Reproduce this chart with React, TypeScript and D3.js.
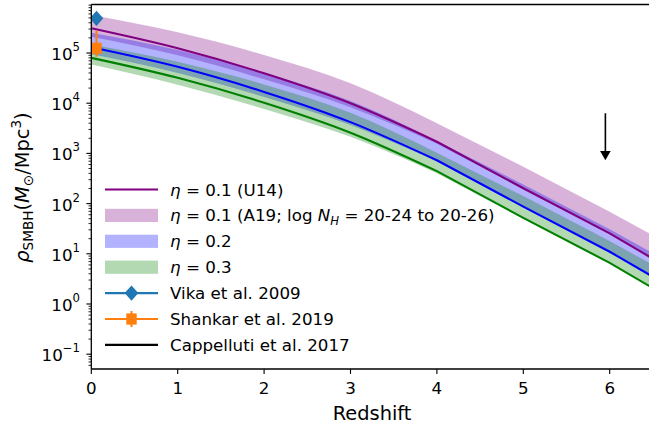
import React from 'react';
import * as d3 from 'd3';

// ---- data ----
const redshift = [0, 1, 2, 3, 4, 5, 6, 6.5];
const eta01Line = [3.1e5, 1.24e5, 3.94e4, 9.95e3, 1.71e3, 202, 25.6, 7.98];
const eta01BandHigh = [5.71e5, 2.58e5, 9.12e4, 2.49e4, 3.98e3, 543, 69, 23.2];
const eta01BandLow = [2.11e5, 9.0e4, 2.99e4, 8.28e3, 1.56e3, 193, 25.6, 8.05];
const eta02Line = [1.3e5, 5.3e4, 1.68e4, 4.2e3, 730, 87, 11, 3.5];
const eta02BandHigh = [2.54e5, 1.15e5, 4.05e4, 1.1e4, 1.77e3, 241, 30.7, 10.3];
const eta02BandLow = [9.4e4, 4.0e4, 1.33e4, 3.68e3, 693, 86, 11.4, 3.58];
const eta03Line = [8.0e4, 3.2e4, 1.02e4, 2.58e3, 443, 52, 6.6, 2.07];
const eta03BandHigh = [1.48e5, 6.7e4, 2.36e4, 6.45e3, 1.03e3, 141, 17.9, 6.0];
const eta03BandLow = [5.9e4, 2.33e4, 7.7e3, 2.14e3, 404, 50, 6.6, 2.08];

const vikaZ = [0.06];
const vikaRho = [4.9e5];
const shankarZ = [0.06];
const shankarRho = [1.24e5];
const shankarLow = [8.4e4];
const shankarHigh = [2.8e5];
const cappellutiZ = [5.95];
const cappellutiRho = [6300];
const cappellutiArrowEnd = [900];

const xTicks = [0, 1, 2, 3, 4, 5, 6];
const yTickExps = [-1, 0, 1, 2, 3, 4, 5];

const FONT = "'DejaVu Sans', sans-serif";

export default function App() {
  const W = 649, H = 431;
  const x = d3.scaleLinear().domain([0, 6.5]).range([91.3, 652.9]);
  const y = d3.scaleLog().domain([0.0507, 9.25e5]).range([369, 4.5]);
  const [x0, x1] = x.range();
  const [yb, yt] = y.range();

  // smooth up to z=4, straight beyond (as in the reference)
  const knee = redshift.indexOf(4);
  const mono = d3.line<[number, number]>().curve(d3.curveMonotoneX);
  const pts = (vals: number[]) => redshift.map((z, i) => [x(z), y(vals[i])] as [number, number]);
  const edgeFwd = (vals: number[]) => {
    const p = pts(vals);
    return (mono(p.slice(0, knee + 1)) || '') + p.slice(knee + 1).map((q) => `L${q[0]},${q[1]}`).join('');
  };
  const edgeRev = (vals: number[]) => {
    const p = pts(vals);
    const tail = p.slice(knee).reverse().map((q) => `L${q[0]},${q[1]}`).join('');
    const head = (mono(p.slice(0, knee + 1).reverse()) || '').replace(/^M/, 'L');
    return tail + head;
  };
  const band = (lo: number[], hi: number[]) => edgeFwd(hi) + edgeRev(lo) + 'Z';
  const line = (vals: number[]) => edgeFwd(vals);

  const minor: number[] = [];
  for (let k = -2; k <= 5; k++) {
    for (let m = 2; m <= 9; m++) {
      const v = m * Math.pow(10, k);
      if (v >= y.domain()[0] && v <= y.domain()[1]) minor.push(v);
    }
  }

  const legendRows = [0, 1, 2, 3, 4, 5, 6].map((i) => 189.5 + i * 25.9);
  const lx0 = 105, lx1 = 158, ltx = 170;
  const fs = 16.7;
  const sub = 11.7;

  const diamond = (cx: number, cy: number, w: number, h: number) =>
    `M${cx},${cy - h}L${cx + w},${cy}L${cx},${cy + h}L${cx - w},${cy}Z`;

  return (
    <svg width={W} height={H} style={{ position: 'absolute', left: 0, top: 0, background: '#fff' }}
      fontFamily={FONT}>
      <defs>
        <clipPath id="plot">
          <rect x={x0} y={yt} width={x1 - x0} height={yb - yt} />
        </clipPath>
      </defs>
      <rect x={0} y={0} width={W} height={H} fill="#fff" />
      <g clipPath="url(#plot)">
        <path d={band(eta01BandLow, eta01BandHigh)} fill="purple" fillOpacity={0.3} />
        <path d={band(eta02BandLow, eta02BandHigh)} fill="blue" fillOpacity={0.3} />
        <path d={band(eta03BandLow, eta03BandHigh)} fill="green" fillOpacity={0.3} />
        <path d={line(eta01Line)} fill="none" stroke="purple" strokeWidth={2.1} />
        <path d={line(eta02Line)} fill="none" stroke="blue" strokeWidth={2.1} />
        <path d={line(eta03Line)} fill="none" stroke="green" strokeWidth={2.1} />
        {/* Vika */}
        {vikaZ.map((z, i) => (
          <path key={'v' + i} d={diamond(x(z), y(vikaRho[i]), 6.8, 7.6)} fill="#1f77b4" />
        ))}
        {/* Shankar */}
        {shankarZ.map((z, i) => (
          <g key={'s' + i}>
            <line x1={x(z)} x2={x(z)} y1={y(shankarLow[i])} y2={y(shankarHigh[i])}
              stroke="#ff7f0e" strokeWidth={2} />
            <rect x={x(z) - 5.2} y={y(shankarRho[i]) - 5.6} width={10.4} height={11.2} fill="#ff7f0e" />
          </g>
        ))}
        {/* Cappelluti upper limit */}
        {cappellutiZ.map((z, i) => {
          const cx = x(z);
          const ya = y(cappellutiRho[i]);
          const yeEnd = y(cappellutiArrowEnd[i]);
          return (
            <g key={'c' + i}>
              <line x1={cx} x2={cx} y1={ya} y2={yeEnd} stroke="#000" strokeWidth={1.6} />
              <path d={`M${cx - 5.3},${yeEnd - 4.6}L${cx + 5.3},${yeEnd - 4.6}L${cx},${yeEnd + 4.6}Z`} fill="#000" />
            </g>
          );
        })}
      </g>

      {/* spines */}
      <line x1={x0} x2={x0} y1={yt} y2={yb} stroke="#000" strokeWidth={1.3} />
      <line x1={x0} x2={x1} y1={yb} y2={yb} stroke="#000" strokeWidth={1.3} />
      <line x1={x0} x2={x1} y1={yt} y2={yt} stroke="#000" strokeWidth={1.3} />
      <line x1={x1} x2={x1} y1={yt} y2={yb} stroke="#000" strokeWidth={1.3} />

      {/* x ticks */}
      {xTicks.map((t) => (
        <g key={'xt' + t}>
          <line x1={x(t)} x2={x(t)} y1={yb} y2={yb + 4.9} stroke="#000" strokeWidth={1.1} />
          <text x={x(t)} y={394} textAnchor="middle" fontSize={fs}>{t}</text>
        </g>
      ))}
      <text x={(x0 + x1) / 2} y={419.5} textAnchor="middle" fontSize={19.4}>Redshift</text>

      {/* y ticks */}
      {minor.map((v, i) => (
        <line key={'ym' + i} x1={x0 - 2.8} x2={x0} y1={y(v)} y2={y(v)} stroke="#000" strokeWidth={0.85} />
      ))}
      {yTickExps.map((e) => {
        const yy = y(Math.pow(10, e));
        return (
          <g key={'yt' + e}>
            <line x1={x0 - 4.9} x2={x0} y1={yy} y2={yy} stroke="#000" strokeWidth={1.1} />
            <text x={80} y={yy + 7} textAnchor="end" fontSize={fs}>
              10<tspan fontSize={sub} dy={-9}>{e < 0 ? '\u2212' + Math.abs(e) : String(e)}</tspan>
            </text>
          </g>
        );
      })}

      {/* y label */}
      <text transform={`translate(29,187.5) rotate(-90)`} textAnchor="middle" fontSize={19.4}>
        <tspan fontStyle="italic">ρ</tspan>
        <tspan fontSize={13.6} dy={3.5}>SMBH</tspan>
        <tspan dy={-3.5}>(</tspan>
        <tspan fontStyle="italic">M</tspan>
        <tspan fontSize={13.6} dy={3.5}>⊙</tspan>
        <tspan dy={-3.5}>/Mpc</tspan>
        <tspan fontSize={13.6} dy={-8}>3</tspan>
        <tspan dy={8}>)</tspan>
      </text>

      {/* legend */}
      <g>
        <line x1={lx0} x2={lx1} y1={legendRows[0]} y2={legendRows[0]} stroke="purple" strokeWidth={2.2} />
        <rect x={lx0} y={legendRows[1] - 6.6} width={lx1 - lx0} height={13.2} fill="purple" fillOpacity={0.3} />
        <rect x={lx0} y={legendRows[2] - 6.6} width={lx1 - lx0} height={13.2} fill="blue" fillOpacity={0.3} />
        <rect x={lx0} y={legendRows[3] - 6.6} width={lx1 - lx0} height={13.2} fill="green" fillOpacity={0.3} />
        <line x1={lx0} x2={lx1} y1={legendRows[4]} y2={legendRows[4]} stroke="#1f77b4" strokeWidth={2.2} />
        <path d={diamond((lx0 + lx1) / 2, legendRows[4], 6.8, 7.6)} fill="#1f77b4" />
        <line x1={lx0} x2={lx1} y1={legendRows[5]} y2={legendRows[5]} stroke="#ff7f0e" strokeWidth={2.2} />
        <line x1={(lx0 + lx1) / 2} x2={(lx0 + lx1) / 2} y1={legendRows[5] - 8} y2={legendRows[5] + 8} stroke="#ff7f0e" strokeWidth={2} />
        <rect x={(lx0 + lx1) / 2 - 5.2} y={legendRows[5] - 5.6} width={10.4} height={11.2} fill="#ff7f0e" />
        <line x1={lx0} x2={lx1} y1={legendRows[6]} y2={legendRows[6]} stroke="#000" strokeWidth={2.2} />

        <text x={ltx} y={legendRows[0] + 6} fontSize={fs}>
          <tspan fontStyle="italic">η</tspan><tspan> = 0.1 (U14)</tspan>
        </text>
        <text x={ltx} y={legendRows[1] + 6} fontSize={fs}>
          <tspan fontStyle="italic">η</tspan><tspan> = 0.1 (A19; log </tspan>
          <tspan fontStyle="italic">N</tspan>
          <tspan fontStyle="italic" fontSize={sub} dy={3.5}>H</tspan>
          <tspan dy={-3.5}> = 20-24 to 20-26)</tspan>
        </text>
        <text x={ltx} y={legendRows[2] + 6} fontSize={fs}>
          <tspan fontStyle="italic">η</tspan><tspan> = 0.2</tspan>
        </text>
        <text x={ltx} y={legendRows[3] + 6} fontSize={fs}>
          <tspan fontStyle="italic">η</tspan><tspan> = 0.3</tspan>
        </text>
        <text x={ltx} y={legendRows[4] + 6} fontSize={fs}>Vika et al. 2009</text>
        <text x={ltx} y={legendRows[5] + 6} fontSize={fs}>Shankar et al. 2019</text>
        <text x={ltx} y={legendRows[6] + 6} fontSize={fs}>Cappelluti et al. 2017</text>
      </g>
    </svg>
  );
}
